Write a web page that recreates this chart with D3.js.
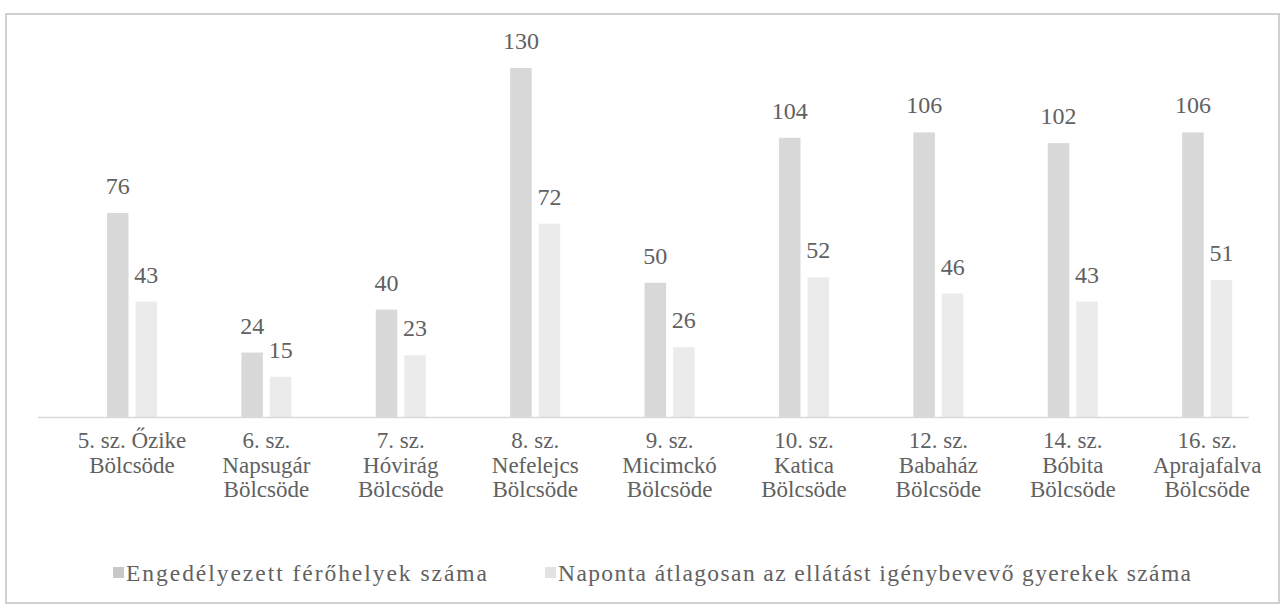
<!DOCTYPE html>
<html>
<head>
<meta charset="utf-8">
<script src="https://cdn.jsdelivr.net/npm/d3@7"></script>
<style>
  html, body { margin: 0; padding: 0; background: #fff; }
  svg { display: block; }
</style>
</head>
<body>
<svg id="chart" width="1285" height="605"></svg>
<script>
const categories = [
  ["5. sz. Őzike", "Bölcsöde"],
  ["6. sz.", "Napsugár", "Bölcsöde"],
  ["7. sz.", "Hóvirág", "Bölcsöde"],
  ["8. sz.", "Nefelejcs", "Bölcsöde"],
  ["9. sz.", "Micimckó", "Bölcsöde"],
  ["10. sz.", "Katica", "Bölcsöde"],
  ["12. sz.", "Babaház", "Bölcsöde"],
  ["14. sz.", "Bóbita", "Bölcsöde"],
  ["16. sz.", "Aprajafalva", "Bölcsöde"]
];
const seriesNames = ["Engedélyezett férőhelyek száma", "Naponta átlagosan az ellátást igénybevevő gyerekek száma"];
const licensedPlaces = [76, 24, 40, 130, 50, 104, 106, 102, 106];
const dailyAverage = [43, 15, 23, 72, 26, 52, 46, 43, 51];
const colors = ["#d8d8d8", "#ebebeb"];

const FONT = "'Liberation Serif', 'Times New Roman', serif";
const TEXT = "#616161";
const svg = d3.select("#chart");
const catKeys = categories.map((c, i) => i);
const baseY = 417;

svg.append("rect").attr("x", 6).attr("y", 14).attr("width", 1273).attr("height", 589)
  .attr("fill", "none").attr("stroke", "#d0d0d0").attr("stroke-width", 2);

const x0 = d3.scaleBand().domain(catKeys).range([64.8, 1274.4]).paddingInner(0.628).paddingOuter(0.314);
const x1 = d3.scaleBand().domain([0, 1]).range([0, x0.bandwidth()]).paddingInner(0.246);
const y = d3.scaleLinear().domain([0, 130]).range([baseY, 68]);

const data = catKeys.map(i => [licensedPlaces[i], dailyAverage[i]]);

const groups = svg.append("g").selectAll("g").data(data).join("g")
  .attr("transform", (d, i) => `translate(${x0(i)},0)`);

groups.selectAll("rect").data(d => d.map((v, s) => ({v, s}))).join("rect")
  .attr("x", d => x1(d.s)).attr("width", x1.bandwidth())
  .attr("y", d => y(d.v)).attr("height", d => y(0) - y(d.v))
  .attr("fill", d => colors[d.s]);

groups.selectAll("text.val").data(d => d.map((v, s) => ({v, s}))).join("text")
  .attr("class", "val")
  .attr("x", d => x1(d.s) + x1.bandwidth() / 2)
  .attr("y", d => y(d.v) - 19)
  .attr("text-anchor", "middle")
  .attr("font-family", FONT).attr("fill", TEXT)
  .attr("font-size", 24)
  .text(d => d.v);

const xAxis = d3.axisBottom(x0).tickSize(0).tickFormat("");
const axisG = svg.append("g").attr("transform", `translate(0,${baseY})`).call(xAxis);
axisG.attr("font-family", FONT);
axisG.select(".domain").attr("d", "M38,0.5H1249").attr("stroke", "#d9d9d9").attr("stroke-width", 1.5);

axisG.selectAll(".tick").each(function(d) {
  const t = d3.select(this).append("text")
    .attr("text-anchor", "middle").attr("font-size", 23).attr("y", 31)
    .attr("font-family", FONT).attr("fill", TEXT);
  categories[d].forEach((line, k) => {
    t.append("tspan").attr("x", 0).attr("dy", k === 0 ? 0 : 24.5).text(line);
  });
});

const legendX = [113, 545];
const legendW = [361, 633];
const lg = svg.append("g").selectAll("g").data(seriesNames).join("g")
  .attr("transform", (d, i) => `translate(${legendX[i]},567)`);
lg.append("rect").attr("width", 11).attr("height", 11).attr("fill", (d, i) => i === 0 ? "#c8c8c8" : "#e2e2e2");
lg.append("text").attr("x", 13).attr("y", 13.5).attr("font-size", 23.5)
  .attr("textLength", (d, i) => legendW[i]).attr("lengthAdjust", "spacing")
  .attr("font-family", FONT).attr("fill", TEXT).text(d => d);
</script>
</body>
</html>
